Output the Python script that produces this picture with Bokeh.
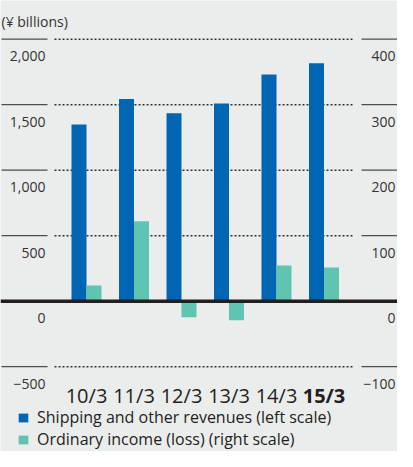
from bokeh.plotting import figure
from bokeh.models import Range1d, Span, Legend, LegendItem
from bokeh.core.properties import value
from bokeh.embed import file_html
from bokeh.resources import INLINE

# ---- data ----
categories = ["10/3", "11/3", "12/3", "13/3", "14/3", "15/3"]
revenues = [1348, 1544, 1434, 1509, 1730, 1816]          # left scale
ordinary_income = [24, 122, -24.5, -29, 54.5, 51.5]      # right scale
left_ticks = [-500, 0, 500, 1000, 1500, 2000]
left_tick_labels = ["\u2212500", "0", "500", "1,000", "1,500", "2,000"]
right_ticks = [-100, 0, 100, 200, 300, 400]
right_tick_labels = ["\u2212100", "0", "100", "200", "300", "400"]
unit_label = "(¥ billions)"
series_names = ["Shipping and other revenues (left scale)",
                "Ordinary income (loss) (right scale)"]

# ---- layout ----
W, H = 397, 451
PX_PER_CAT = 47.5
X_START = -1.8105
X_END = X_START + W / PX_PER_CAT
Y_TOP, Y_BOTTOM = 2295.4, -1147.3
RIGHT_FACTOR = 5.0
BG = "#ebecec"
BLUE = "#0066b3"
GREEN = "#5fc4b0"
DARK = "#231f20"
FONT = "Open Sans"


def xd(page_px):
    return X_START + (page_px - 8) / PX_PER_CAT


p = figure(width=W, height=H, output_backend="svg", toolbar_location=None,
           x_range=Range1d(X_START, X_END), y_range=Range1d(Y_BOTTOM, Y_TOP),
           x_axis_location=None, y_axis_location=None, min_border=0)
p.extra_y_ranges = {"right": Range1d(Y_BOTTOM / RIGHT_FACTOR, Y_TOP / RIGHT_FACTOR)}
p.background_fill_color = BG
p.border_fill_color = BG
p.outline_line_color = None
p.xgrid.visible = False
p.ygrid.visible = False

idx = list(range(len(categories)))
half = 7.5 / PX_PER_CAT
bw = 15 / PX_PER_CAT

# dotted gridlines (not at zero)
grid_vals = [t for t in left_ticks if t != 0]
p.segment(x0=[xd(62)] * len(grid_vals), x1=[xd(360)] * len(grid_vals),
          y0=grid_vals, y1=grid_vals, line_color="#333333", line_width=1.5,
          line_dash="2 2")
# short solid tick lines on both sides
p.segment(x0=[xd(9)] * len(left_ticks), x1=[xd(55)] * len(left_ticks),
          y0=left_ticks, y1=left_ticks, line_color="#4d4d4d", line_width=1.2)
p.segment(x0=[xd(369)] * len(right_ticks), x1=[xd(406)] * len(right_ticks),
          y0=right_ticks, y1=right_ticks, line_color="#4d4d4d", line_width=1.2,
          y_range_name="right")

# bars
r_blue = p.vbar(x=[i - half for i in idx], top=revenues, bottom=0, width=bw,
                fill_color=BLUE, line_color=None)
r_green = p.vbar(x=[i + half for i in idx], top=ordinary_income, bottom=0, width=bw,
                 fill_color=GREEN, line_color=None, y_range_name="right")

# zero line
p.add_layout(Span(location=0, dimension="width", line_color=DARK, line_width=3.5))

# tick labels
p.text(x=[xd(53)] * len(left_ticks), y=left_ticks, text=left_tick_labels,
       text_align="right", text_baseline="alphabetic", y_offset=17,
       text_font=value(FONT), text_font_size="14px", text_color="#333333")
p.text(x=[xd(403)] * len(right_ticks), y=right_ticks, text=right_tick_labels,
       text_align="right", text_baseline="alphabetic", y_offset=17,
       text_font=value(FONT), text_font_size="14px", text_color="#333333",
       y_range_name="right")

# unit label
p.text(x=[xd(9)], y=[left_ticks[-1]], text=[unit_label], text_align="left",
       text_baseline="alphabetic", y_offset=-18, text_font=value(FONT),
       text_font_size="14px", text_color="#333333")

# category labels
p.text(x=idx[:-1], y=[left_ticks[0]] * (len(idx) - 1), text=categories[:-1],
       text_align="center", text_baseline="alphabetic", y_offset=29,
       text_font=value(FONT), text_font_size="20px", text_color=DARK)
p.text(x=idx[-1:], y=[left_ticks[0]], text=categories[-1:],
       text_align="center", text_baseline="alphabetic", y_offset=29,
       text_font=value(FONT), text_font_size="20px", text_font_style="bold",
       text_color=DARK)

legend = Legend(items=[LegendItem(label=series_names[0], renderers=[r_blue]),
                       LegendItem(label=series_names[1], renderers=[r_green])],
                location=(17, 1), orientation="vertical", padding=0, margin=0,
                spacing=-1, glyph_width=12, glyph_height=11, label_height=20,
                label_standoff=8, label_text_font=FONT, label_text_font_size="16px",
                label_text_color=DARK, background_fill_alpha=0,
                border_line_alpha=0)
p.add_layout(legend)

open("out.html", "w").write(file_html(p, INLINE))
